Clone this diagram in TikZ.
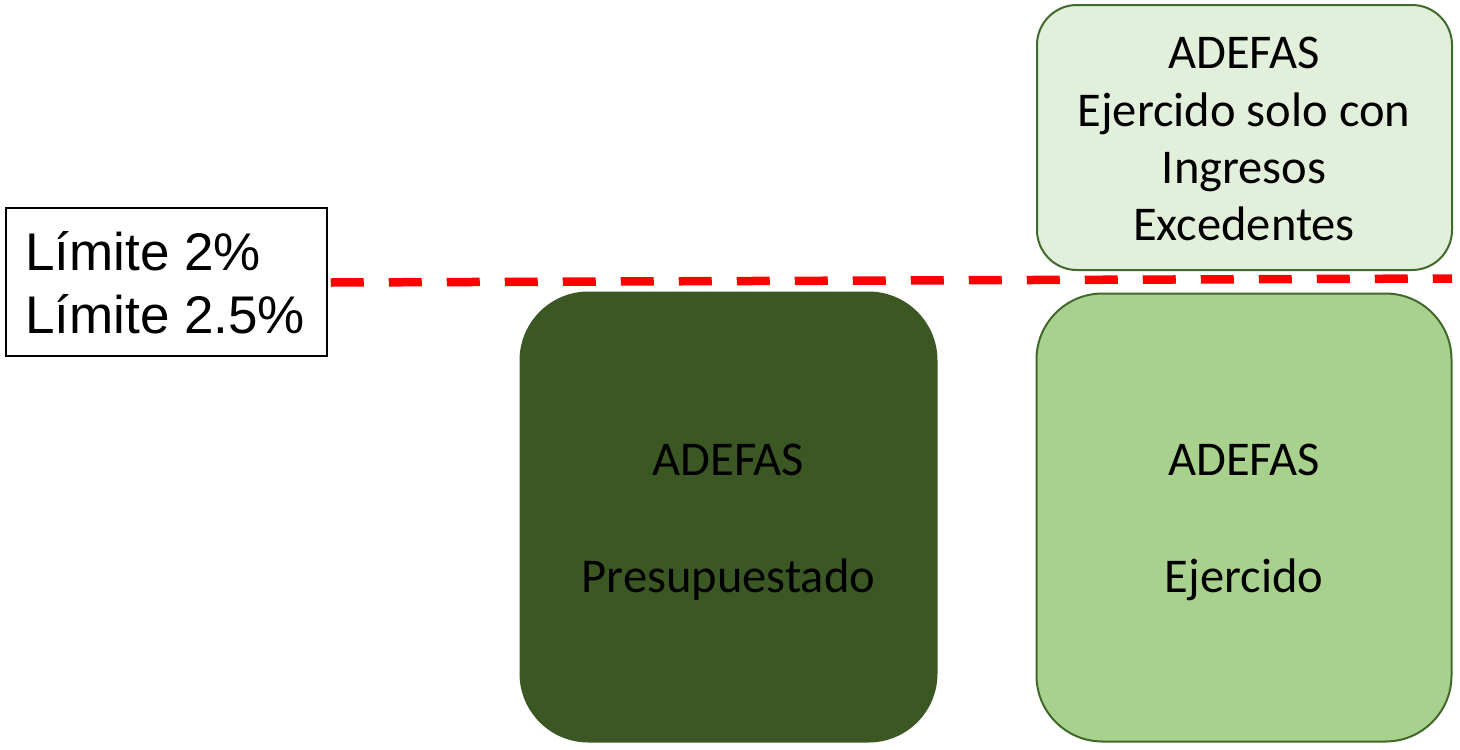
\documentclass[tikz,border=0pt]{standalone}
\usepackage{fontspec}
\setmainfont{Carlito}
\newfontfamily\arialfont{Liberation Sans}
\definecolor{darkgreen}{HTML}{3A5724}
\definecolor{midgreen}{HTML}{A9D18E}
\definecolor{lightgreen}{HTML}{E2EFDA}
\definecolor{edgegreen}{HTML}{41692B}
\definecolor{limitred}{HTML}{FF0000}
\tikzset{
  greenbox/.style={rectangle, draw=edgegreen, line width=2pt, inner sep=0pt},
  boxtext/.style={anchor=base, inner sep=0pt, font=\fontsize{48.5}{57}\selectfont, text=black},
  legendbox/.style={rectangle, draw=black, line width=1.5pt, fill=white, inner sep=0pt},
  legendtext/.style={anchor=base west, inner sep=0pt, font=\arialfont\fontsize{53}{63}\selectfont},
  limitline/.style={draw=limitred, line width=8.5pt, dash pattern=on 33pt off 25pt}
}
\begin{document}
\begin{tikzpicture}[x=1pt,y=-1pt]
\useasboundingbox (0,0) rectangle (1460,750);
\fill[white] (0,0) rectangle (1460,750);

% boxes
\node[greenbox, fill=lightgreen, rounded corners=40pt, minimum width=415pt, minimum height=265pt] (top) at (1244.5,137.5) {};
\node[greenbox, fill=darkgreen, draw=darkgreen, rounded corners=68pt, minimum width=416pt, minimum height=449pt] (pres) at (728.5,517) {};
\node[greenbox, fill=midgreen, rounded corners=66pt, minimum width=415pt, minimum height=448pt] (ejer) at (1244,517.5) {};

% legend
\node[legendbox, minimum width=321pt, minimum height=148pt] (legend) at (166.5,282) {};
\node[legendtext] (l1) at (25,270) {Límite 2\%};
\node[legendtext] (l2) at (25,333) {Límite 2.5\%};

% limit line
\coordinate (lineend) at (1452,278.5);
\draw[limitline] (legend.east |- 0,282.5) ++(3,0) -- (lineend);

% texts
\node[boxtext] (t1) at (1244,68) {ADEFAS};
\node[boxtext] (t2) at (1244,126) {Ejercido solo con};
\node[boxtext] (t3) at (1244,183) {Ingresos};
\node[boxtext] (t4) at (1244,240) {Excedentes};
\node[boxtext] (p1) at (728.5,475) {ADEFAS};
\node[boxtext] (p2) at (728.5,592) {Presupuestado};
\node[boxtext] (e1) at (1244,475) {ADEFAS};
\node[boxtext] (e2) at (1244,592) {Ejercido};
\end{tikzpicture}
\end{document}
